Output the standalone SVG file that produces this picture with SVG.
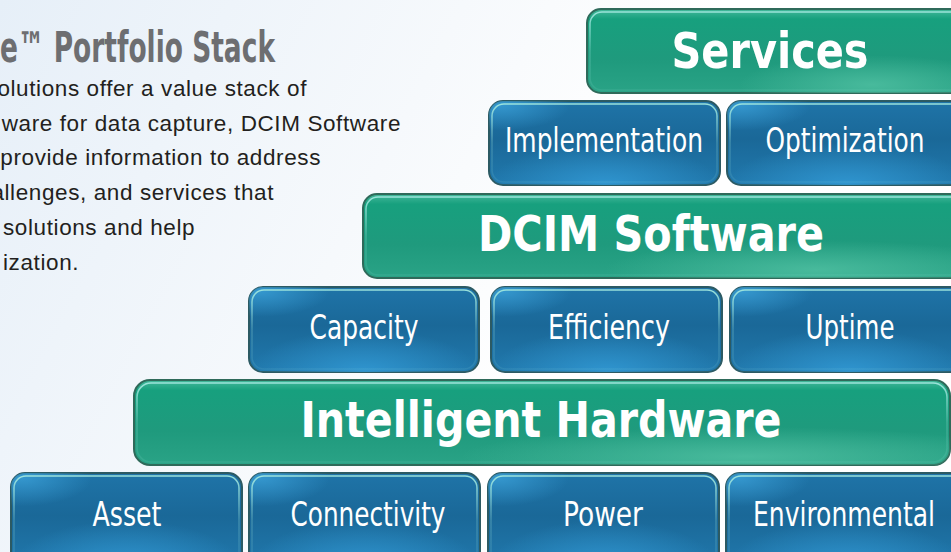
<svg xmlns="http://www.w3.org/2000/svg" width="951" height="552" viewBox="0 0 951 552">
<defs>
<linearGradient id="bg" x1="0" y1="0" x2="1" y2="0.3">
<stop offset="0" stop-color="#e6eff8"/>
<stop offset="0.45" stop-color="#f6f9fc"/>
<stop offset="0.7" stop-color="#ffffff"/>
</linearGradient>
<linearGradient id="blueV" x1="0" y1="0" x2="0" y2="1">
<stop offset="0" stop-color="#1f74a8"/>
<stop offset="0.45" stop-color="#1a6898"/>
<stop offset="1" stop-color="#2179ad"/>
</linearGradient>
<radialGradient id="blueGlow" cx="0.5" cy="1" r="0.5" fx="0.5" fy="1">
<stop offset="0" stop-color="#3198d3" stop-opacity="0.9"/>
<stop offset="1" stop-color="#3198d3" stop-opacity="0"/>
</radialGradient>
<radialGradient id="blueCorner" cx="0.05" cy="0.05" r="0.3">
<stop offset="0" stop-color="#3aa0d8" stop-opacity="0.8"/>
<stop offset="1" stop-color="#3aa0d8" stop-opacity="0"/>
</radialGradient>
<linearGradient id="greenV" x1="0" y1="0" x2="0" y2="1">
<stop offset="0" stop-color="#45b99b"/>
<stop offset="0.12" stop-color="#17a07e"/>
<stop offset="0.6" stop-color="#1f9a7d"/>
<stop offset="1" stop-color="#2aa386"/>
</linearGradient>
<radialGradient id="greenGlow" cx="0.75" cy="0.9" r="0.35">
<stop offset="0" stop-color="#50c0a2" stop-opacity="0.8"/>
<stop offset="1" stop-color="#50c0a2" stop-opacity="0"/>
</radialGradient>
<linearGradient id="hiEdge" x1="0" y1="0" x2="0" y2="1">
<stop offset="0" stop-color="#9fe6dd" stop-opacity="0.95"/>
<stop offset="0.5" stop-color="#9fe6dd" stop-opacity="0.25"/>
<stop offset="1" stop-color="#9fe6dd" stop-opacity="0.1"/>
</linearGradient>
</defs>
<style>
.blue{fill:url(#blueV);stroke:#2c5a63;stroke-width:2}
.green{fill:url(#greenV);stroke:#2f6a5a;stroke-width:2}
.bglow{fill:url(#blueGlow);stroke:none}
.bcorner{fill:url(#blueCorner);stroke:none}
.gglow{fill:url(#greenGlow);stroke:none}
.hi{fill:none;stroke:url(#hiEdge);stroke-width:1.6}
.lbl{font-family:"Liberation Sans Narrow","DejaVu Sans Condensed","Liberation Sans",sans-serif;fill:#ffffff;font-size:33px;text-anchor:middle}
.big{font-family:"Liberation Sans Narrow","DejaVu Sans Condensed","Liberation Sans",sans-serif;fill:#ffffff;font-size:50px;font-weight:bold;text-anchor:middle}
.body{font-family:"Liberation Sans",Arial,sans-serif;fill:#231f20;font-size:22.5px;letter-spacing:0.6px;text-anchor:end}
.title{font-family:"Liberation Sans Narrow","DejaVu Sans Condensed","Liberation Sans",sans-serif;fill:#6d6e71;font-size:42px;font-weight:bold}
</style>
<rect width="951" height="552" fill="url(#bg)"/>
<g id="intro">
<text class="title" x="0" y="62" textLength="275" lengthAdjust="spacingAndGlyphs">e™ Portfolio Stack</text>
<text class="body" x="307" y="96">olutions offer a value stack of</text>
<text class="body" x="401" y="131">ware for data capture, DCIM Software</text>
<text class="body" x="321" y="165">provide information to address</text>
<text class="body" x="274" y="200">allenges, and services that</text>
<text class="body" x="3" y="235" style="text-anchor:start">solutions and help</text>
<text class="body" x="3" y="270" style="text-anchor:start">ization.</text>
</g>
<g id="services">
<rect class="green" x="587" y="9" width="380" height="84" rx="14"/>
<rect class="gglow" x="587" y="9" width="380" height="84" rx="14"/>
<rect class="hi" x="590" y="12" width="374" height="78" rx="12"/>
<text class="big" x="770" y="68" textLength="197" lengthAdjust="spacingAndGlyphs">Services</text>
</g>
<g id="implementation">
<rect class="blue" x="489" y="101" width="231" height="84" rx="14"/>
<rect class="bglow" x="489" y="101" width="231" height="84" rx="14"/>
<rect class="bcorner" x="489" y="101" width="231" height="84" rx="14"/>
<rect class="hi" x="492" y="104" width="225" height="78" rx="12"/>
<text class="lbl" x="604" y="152" textLength="198" lengthAdjust="spacingAndGlyphs">Implementation</text>
</g>
<g id="optimization">
<rect class="blue" x="727" y="101" width="240" height="84" rx="14"/>
<rect class="bglow" x="727" y="101" width="240" height="84" rx="14"/>
<rect class="bcorner" x="727" y="101" width="240" height="84" rx="14"/>
<rect class="hi" x="730" y="104" width="234" height="78" rx="12"/>
<text class="lbl" x="845" y="152" textLength="159" lengthAdjust="spacingAndGlyphs">Optimization</text>
</g>
<g id="dcim-software">
<rect class="green" x="363" y="194" width="604" height="84" rx="14"/>
<rect class="gglow" x="363" y="194" width="604" height="84" rx="14"/>
<rect class="hi" x="366" y="197" width="598" height="78" rx="12"/>
<text class="big" x="651" y="251" textLength="346" lengthAdjust="spacingAndGlyphs">DCIM Software</text>
</g>
<g id="capacity">
<rect class="blue" x="249" y="287" width="230" height="85" rx="14"/>
<rect class="bglow" x="249" y="287" width="230" height="85" rx="14"/>
<rect class="bcorner" x="249" y="287" width="230" height="85" rx="14"/>
<rect class="hi" x="252" y="290" width="224" height="79" rx="12"/>
<text class="lbl" x="364" y="339" textLength="109" lengthAdjust="spacingAndGlyphs">Capacity</text>
</g>
<g id="efficiency">
<rect class="blue" x="491" y="287" width="231" height="85" rx="14"/>
<rect class="bglow" x="491" y="287" width="231" height="85" rx="14"/>
<rect class="bcorner" x="491" y="287" width="231" height="85" rx="14"/>
<rect class="hi" x="494" y="290" width="225" height="79" rx="12"/>
<text class="lbl" x="609" y="339" textLength="122" lengthAdjust="spacingAndGlyphs">Efficiency</text>
</g>
<g id="uptime">
<rect class="blue" x="730" y="287" width="237" height="85" rx="14"/>
<rect class="bglow" x="730" y="287" width="237" height="85" rx="14"/>
<rect class="bcorner" x="730" y="287" width="237" height="85" rx="14"/>
<rect class="hi" x="733" y="290" width="231" height="79" rx="12"/>
<text class="lbl" x="850" y="339" textLength="89" lengthAdjust="spacingAndGlyphs">Uptime</text>
</g>
<g id="intelligent-hardware">
<rect class="green" x="134" y="380" width="816" height="85" rx="16"/>
<rect class="gglow" x="134" y="380" width="816" height="85" rx="16"/>
<rect class="hi" x="137" y="383" width="810" height="79" rx="14"/>
<text class="big" x="541" y="437" textLength="481" lengthAdjust="spacingAndGlyphs">Intelligent Hardware</text>
</g>
<g id="asset">
<rect class="blue" x="11" y="473" width="231" height="95" rx="14"/>
<rect class="bglow" x="11" y="473" width="231" height="95" rx="14"/>
<rect class="bcorner" x="11" y="473" width="231" height="95" rx="14"/>
<rect class="hi" x="14" y="476" width="225" height="89" rx="12"/>
<text class="lbl" x="127" y="526" textLength="69" lengthAdjust="spacingAndGlyphs">Asset</text>
</g>
<g id="connectivity">
<rect class="blue" x="249" y="473" width="231" height="95" rx="14"/>
<rect class="bglow" x="249" y="473" width="231" height="95" rx="14"/>
<rect class="bcorner" x="249" y="473" width="231" height="95" rx="14"/>
<rect class="hi" x="252" y="476" width="225" height="89" rx="12"/>
<text class="lbl" x="368" y="526" textLength="155" lengthAdjust="spacingAndGlyphs">Connectivity</text>
</g>
<g id="power">
<rect class="blue" x="488" y="473" width="231" height="95" rx="14"/>
<rect class="bglow" x="488" y="473" width="231" height="95" rx="14"/>
<rect class="bcorner" x="488" y="473" width="231" height="95" rx="14"/>
<rect class="hi" x="491" y="476" width="225" height="89" rx="12"/>
<text class="lbl" x="603" y="526" textLength="80" lengthAdjust="spacingAndGlyphs">Power</text>
</g>
<g id="environmental">
<rect class="blue" x="726" y="473" width="240" height="95" rx="14"/>
<rect class="bglow" x="726" y="473" width="240" height="95" rx="14"/>
<rect class="bcorner" x="726" y="473" width="240" height="95" rx="14"/>
<rect class="hi" x="729" y="476" width="234" height="89" rx="12"/>
<text class="lbl" x="844" y="526" textLength="182" lengthAdjust="spacingAndGlyphs">Environmental</text>
</g>
<g id="connectors"/>
</svg>
